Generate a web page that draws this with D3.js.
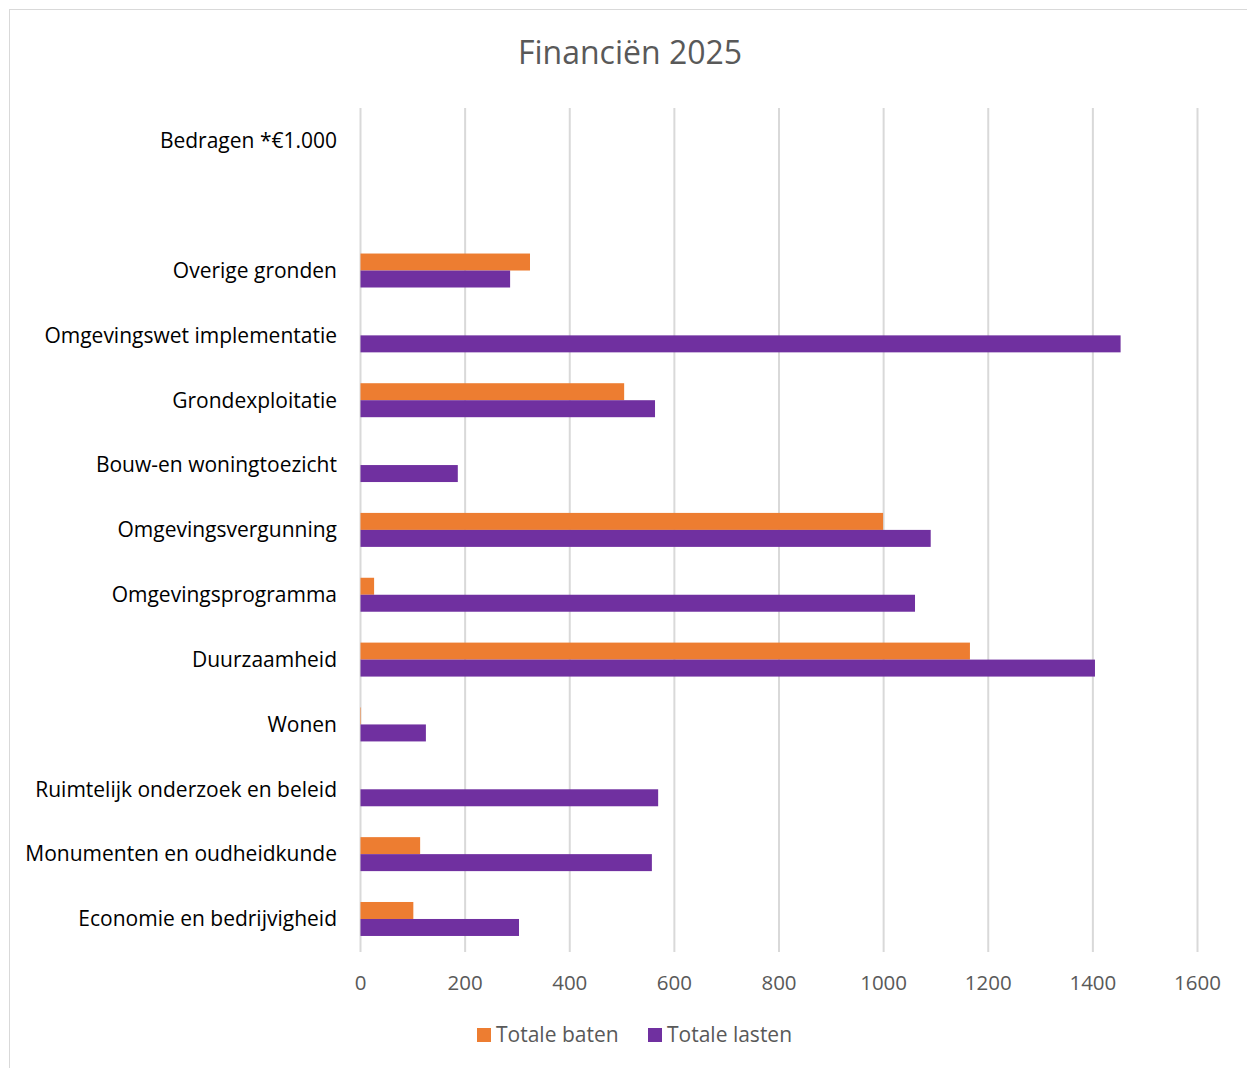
<!DOCTYPE html>
<html>
<head>
<meta charset="utf-8">
<script src="https://cdn.jsdelivr.net/npm/d3@7"></script>
<style>
  body { margin: 0; background: #fff; }
  svg { display: block; }
</style>
</head>
<body>
<div id="chart"></div>
<script>
// categories, top to bottom as drawn
var categories = ["Bedragen *€1.000", "", "Overige gronden", "Omgevingswet implementatie",
    "Grondexploitatie", "Bouw-en woningtoezicht", "Omgevingsvergunning", "Omgevingsprogramma",
    "Duurzaamheid", "Wonen", "Ruimtelijk onderzoek en beleid", "Monumenten en oudheidkunde",
    "Economie en bedrijvigheid"]
var baten  = [null, null, 324, 0, 504, 0, 999, 26, 1165, 1, 0, 114, 101]
var lasten = [null, null, 286, 1453, 563, 186, 1090, 1060, 1404, 125, 569, 557, 303]
var seriesNames = ["Totale baten", "Totale lasten"]
var xTicks = [0, 200, 400, 600, 800, 1000, 1200, 1400, 1600]

var width = 1247, height = 1068
var color = ["#ED7D31", "#7030A0"]
var font = "'Open Sans', sans-serif"

var svg = d3.select("#chart").append("svg")
    .attr("width", width)
    .attr("height", height)

// chart border
svg.append("rect")
    .attr("x", 9.5).attr("y", 9.5)
    .attr("width", width + 20).attr("height", height + 20)
    .attr("fill", "none")
    .attr("stroke", "#d9d9d9")

svg.append("text")
    .attr("x", 630).attr("y", 64)
    .attr("text-anchor", "middle")
    .attr("font-family", font)
    .attr("font-size", 32)
    .attr("fill", "#595959")
    .text("Financiën 2025")

var x = d3.scaleLinear().domain([0, 1600]).range([360.5, 1197.5])
var y = d3.scaleBand().domain(categories).range([108.4, 951.4])
    .paddingInner(0.476).paddingOuter(0.238)
var ySub = d3.scaleBand().domain([0, 1]).range([0, y.bandwidth()])

// gridlines
svg.append("g").selectAll("line")
    .data(xTicks)
    .enter().append("line")
    .attr("x1", function(d) { return x(d) })
    .attr("x2", function(d) { return x(d) })
    .attr("y1", 108)
    .attr("y2", 952)
    .attr("stroke", "#d9d9d9")
    .attr("stroke-width", 2)

// x tick labels
svg.append("g").selectAll("text")
    .data(xTicks)
    .enter().append("text")
    .attr("x", function(d) { return x(d) })
    .attr("y", 990)
    .attr("text-anchor", "middle")
    .attr("font-family", font)
    .attr("font-size", 20.5)
    .attr("fill", "#595959")
    .text(function(d) { return d })

// category labels
svg.append("g").selectAll("text")
    .data(categories)
    .enter().append("text")
    .attr("x", 337)
    .attr("y", function(d) { return y(d) + y.bandwidth() / 2 })
    .attr("dy", "0.35em")
    .attr("text-anchor", "end")
    .attr("font-family", font)
    .attr("font-size", 21)
    .attr("fill", "#000")
    .text(function(d) { return d })

// bars
var rows = categories.map(function(c, i) {
    return { cat: c, vals: [baten[i], lasten[i]] }
})

var groups = svg.append("g").selectAll("g")
    .data(rows)
    .enter().append("g")
    .attr("transform", function(d) { return "translate(0," + y(d.cat) + ")" })

groups.selectAll("rect")
    .data(function(d) {
        return d.vals.map(function(v, k) { return { v: v, k: k } })
            .filter(function(e) { return e.v })
    })
    .enter().append("rect")
    .attr("x", x(0))
    .attr("y", function(d) { return ySub(d.k) })
    .attr("width", function(d) { return x(d.v) - x(0) })
    .attr("height", ySub.bandwidth())
    .attr("fill", function(d) { return color[d.k] })

// legend
var legendX = [477, 648]
var legend = svg.append("g").selectAll("g")
    .data(seriesNames)
    .enter().append("g")
    .attr("transform", function(d, i) { return "translate(" + legendX[i] + ",1028)" })

legend.append("rect")
    .attr("width", 14).attr("height", 14)
    .attr("fill", function(d, i) { return color[i] })

legend.append("text")
    .attr("x", 19).attr("y", 7)
    .attr("dy", "0.35em")
    .attr("font-family", font)
    .attr("font-size", 21)
    .attr("fill", "#595959")
    .text(function(d) { return d })
</script>
</body>
</html>
